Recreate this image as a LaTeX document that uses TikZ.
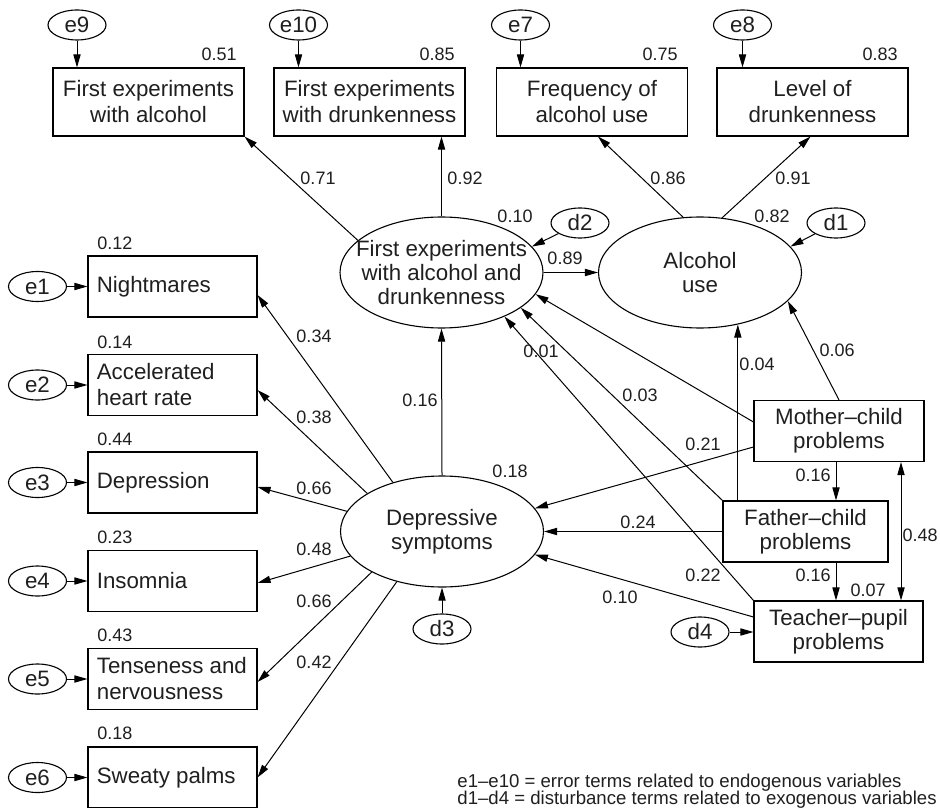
\documentclass[tikz,border=0pt]{standalone}
\usepackage{fontspec}
\setmainfont{Liberation Sans}
\usetikzlibrary{shapes.geometric,arrows.meta}
\begin{document}
\begin{tikzpicture}[x=0.5pt,y=-0.5pt,
  txt/.style={text=black!88},
  bigfont/.style={txt,font=\fontsize{11.15}{13}\selectfont},
  ellfont/.style={txt,font=\fontsize{11.15}{11.9}\selectfont},
  numfont/.style={txt,font=\fontsize{9}{10.8}\selectfont},
  tbox/.style={draw,line width=0.55pt,rectangle,inner sep=0,bigfont,align=center,minimum width=95.5pt,minimum height=34pt},
  lbox/.style={draw,line width=0.55pt,rectangle,inner sep=0,minimum width=84.5pt,minimum height=30.5pt},
  ltext/.style={bigfont,anchor=west,align=left,inner sep=0},
  rbox/.style={draw,line width=0.55pt,rectangle,inner sep=0,ellfont,align=center,minimum height=30.5pt},
  bigell/.style={draw,line width=0.55pt,ellipse,inner sep=0,minimum width=101.5pt,minimum height=55.5pt},
  elltext/.style={ellfont,align=center,inner sep=0},
  sell/.style={draw,line width=0.55pt,ellipse,inner sep=0,minimum width=29pt,minimum height=15pt,bigfont},
  arr/.style={-{Triangle[length=6.5pt,width=3.6pt]},line width=0.5pt},
  darr/.style={{Triangle[length=6.5pt,width=3.6pt]}-{Triangle[length=6.5pt,width=3.6pt]},line width=0.5pt},
  lab/.style={numfont,inner sep=0},
  legend/.style={txt,font=\fontsize{9.3}{10}\selectfont,anchor=west,inner sep=0}
]
\useasboundingbox (0,0) rectangle (940,807);

% top boxes and error terms
\node[tbox] (A) at (148.5,102) {First experiments\\with alcohol};
\node[tbox] (B) at (369.5,102) {First experiments\\with drunkenness};
\node[tbox] (C) at (592,102) {Frequency of\\alcohol use};
\node[tbox] (D) at (812.5,102) {Level of\\drunkenness};
\node[sell] (e9) at (77,25) {e9};
\node[sell] (e10) at (298.5,25) {e10};
\node[sell] (e7) at (520.5,25) {e7};
\node[sell] (e8) at (742.5,25) {e8};
\draw[arr] (e9) -- (e9 |- A.north);
\draw[arr] (e10) -- (e10 |- B.north);
\draw[arr] (e7) -- (e7 |- C.north);
\draw[arr] (e8) -- (e8 |- D.north);
\node[lab,anchor=east] (l51) at (237,54) {0.51};
\node[lab,anchor=east] (l85) at (455,54) {0.85};
\node[lab,anchor=east] (l75) at (678,54) {0.75};
\node[lab,anchor=east] (l83) at (898,54) {0.83};

% latent ellipses
\node[bigell] (FE) at (441.5,272.5) {};
\node[elltext] (FEt) at (FE) {First experiments\\with alcohol and\\drunkenness};
\node[bigell] (AU) at (700,272.5) {};
\node[elltext] (AUt) at (AU) {Alcohol\\use};
\node[bigell] (DS) at (442,531.5) {};
\node[elltext] (DSt) at (DS) {Depressive\\symptoms};

\node[sell] (d2) at (580,223) {d2};
\node[sell] (d1) at (836,223) {d1};
\node[sell] (d3) at (442,629) {d3};
\node[sell] (d4) at (700,632) {d4};

% left boxes
\node[lbox] (NM) at (172.5,286.5) {};
\node[lbox] (AH) at (172.5,385) {};
\node[lbox] (DP) at (172.5,482.5) {};
\node[lbox] (IN) at (172.5,581) {};
\node[lbox] (TN) at (172.5,679) {};
\node[lbox] (SP) at (172.5,777.5) {};
\node[ltext] (NMt) at ([xshift=4.5pt]NM.west) {Nightmares};
\node[ltext] (AHt) at ([xshift=4.5pt]AH.west) {Accelerated\\heart rate};
\node[ltext] (DPt) at ([xshift=4.5pt]DP.west) {Depression};
\node[ltext] (INt) at ([xshift=4.5pt]IN.west) {Insomnia};
\node[ltext] (TNt) at ([xshift=4.5pt]TN.west) {Tenseness and\\nervousness};
\node[ltext] (SPt) at ([xshift=4.5pt]SP.west) {Sweaty palms};
\foreach \n/\y in {1/286.5,2/385,3/482.5,4/581,5/679,6/777.5}{
  \node[sell] (e\n) at (37.5,\y) {e\n};
}
\draw[arr] (e1) -- (NM);
\draw[arr] (e2) -- (AH);
\draw[arr] (e3) -- (DP);
\draw[arr] (e4) -- (IN);
\draw[arr] (e5) -- (TN);
\draw[arr] (e6) -- (SP);
\node[lab,anchor=west] (l12) at (97,243) {0.12};
\node[lab,anchor=west] (l14) at (97,342) {0.14};
\node[lab,anchor=west] (l44) at (97,439) {0.44};
\node[lab,anchor=west] (l23) at (97,537) {0.23};
\node[lab,anchor=west] (l43) at (97,635) {0.43};
\node[lab,anchor=west] (l18) at (97,733) {0.18};

% right boxes
\node[rbox,minimum width=85pt] (MC) at (839,431) {Mother–child\\problems};
\node[rbox,minimum width=82.5pt] (FC) at (805.5,531.5) {Father–child\\problems};
\node[rbox,minimum width=84.5pt] (TP) at (838.5,631.5) {Teacher–pupil\\problems};
\coordinate (vx) at (836,0);
\coordinate (vy) at (901,0);

% structural paths
\draw[arr] (FE.159) -- (A.south east);
\draw[arr] (FE.north) -- (FE.north |- B.south);
\draw[arr] (AU.107) -- ([xshift=3pt]C.south);
\draw[arr] (AU.68) -- ([xshift=-1pt]D.south);
\draw[arr] (FE.east) -- (AU.west);
\draw[arr] (d2) -- (FE.16);
\draw[arr] (d1) -- (AU.16);
\draw[arr] (DS.north) -- (FE.south);
\draw[arr] (d3) -- (DS.south);

\draw[arr] (DS.135) -- ([yshift=-4.25pt]NM.east);
\draw[arr] (DS.153) -- ([yshift=-2.5pt]AH.east);
\draw[arr] (DS.168) -- ([yshift=-2.25pt]DP.east);
\draw[arr] (DS.195) -- ([yshift=-1pt]IN.east);
\draw[arr] (DS.210) -- ([yshift=-1.5pt]TN.east);
\draw[arr] (DS.228) -- (SP.east);

\draw[arr] ([yshift=4.5pt]MC.west) -- (FE.-13);
\draw[arr] (FC.north west) -- (FE.-24);
\draw[arr] (TP.north west) -- (FE.-35);
\draw[arr] (MC.north) -- (AU.-18);
\draw[arr] (AU.-54.4 |- FC.north) -- (AU.-54.4);
\draw[arr] ([yshift=-8pt]MC.west) -- (DS.14);
\draw[arr] (FC.west) -- (DS.east);
\draw[arr] ([yshift=7.25pt]TP.west) -- (DS.-14);
\draw[arr] (vx |- MC.south) -- (vx |- FC.north);
\draw[arr] (vx |- FC.south) -- (vx |- TP.north);
\draw[darr] (vy |- MC.south) -- (vy |- TP.north);
\draw[arr] (d4.east) -- (d4.east -| TP.west);

% path coefficients
\node[lab] (c71) at (318,178) {0.71};
\node[lab] (c92) at (465,178) {0.92};
\node[lab] (c86) at (668,178) {0.86};
\node[lab] (c91) at (793,178) {0.91};
\node[lab] (c10a) at (515,216) {0.10};
\node[lab] (c82) at (772,216) {0.82};
\node[lab] (c89) at (565,258) {0.89};
\node[lab] (c16a) at (420,400) {0.16};
\node[lab] (c18) at (510,471) {0.18};
\node[lab] (c34) at (314,336) {0.34};
\node[lab] (c38) at (314,417) {0.38};
\node[lab] (c66a) at (314,488) {0.66};
\node[lab] (c48a) at (314,549) {0.48};
\node[lab] (c66b) at (314,601) {0.66};
\node[lab] (c42) at (314,662) {0.42};
\node[lab] (c01) at (541,351) {0.01};
\node[lab] (c03) at (640,395) {0.03};
\node[lab] (c04) at (757,364) {0.04};
\node[lab] (c06) at (837,350) {0.06};
\node[lab] (c21) at (703,444) {0.21};
\node[lab] (c24) at (638,522) {0.24};
\node[lab] (c22) at (703,575) {0.22};
\node[lab] (c10b) at (620,597) {0.10};
\node[lab] (c16b) at (813,475) {0.16};
\node[lab] (c16c) at (813,575) {0.16};
\node[lab] (c07) at (868,590) {0.07};
\node[lab] (c48b) at (920,535) {0.48};

% legend
\node[legend] (leg1) at (457,783) {e1–e10 = error terms related to endogenous variables};
\node[legend] (leg2) at (457,800) {d1–d4 = disturbance terms related to exogenous variables};
\end{tikzpicture}
\end{document}
